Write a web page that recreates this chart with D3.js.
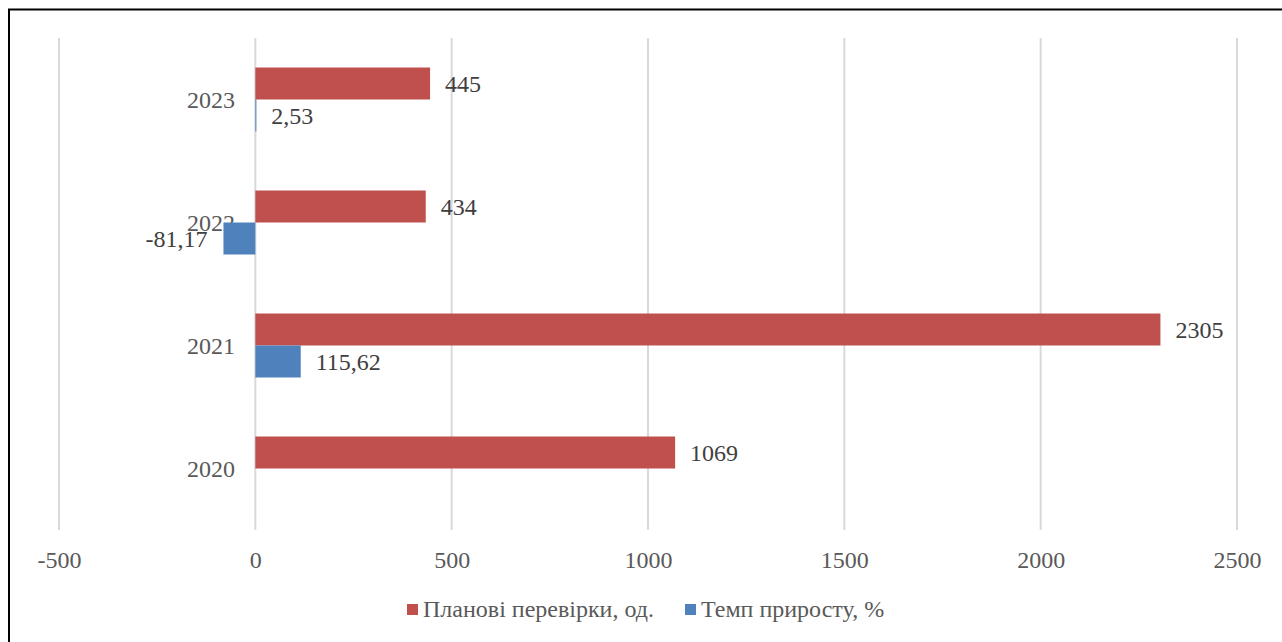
<!DOCTYPE html>
<html><head><meta charset="utf-8">
<script src="https://cdn.jsdelivr.net/npm/d3@7"></script>
<style>body{margin:0;background:#fff}svg{display:block}text{font-family:"Liberation Serif","Times New Roman",serif}</style>
</head><body>
<svg id="c" width="1282" height="642"></svg>
<script>
const categories = ["2020","2021","2022","2023"];
const seriesNames = ["Планові перевірки, од.","Темп приросту, %"];
const planned = [1069, 2305, 434, 445];
const growth = [null, 115.62, -81.17, 2.53];
const growthLabels = ["", "115,62", "-81,17", "2,53"];
const tickValues = [-500, 0, 500, 1000, 1500, 2000, 2500];
const colors = ["#C0504D", "#4F81BD"];
const FS = 24;

const svg = d3.select("#c");
svg.append("rect").attr("x",9).attr("y",9.5).attr("width",1290).attr("height",650)
  .attr("fill","none").attr("stroke","#000").attr("stroke-width",2);

const x = d3.scaleLinear().domain([-500,2500]).range([59,1237]);
const y = d3.scaleBand().domain(categories.slice().reverse()).range([38,530]);
const inner = d3.scaleBand().domain([0,1]).range([0,64]);

// gridlines
svg.append("g").selectAll("line").data(tickValues).join("line")
  .attr("x1",d=>x(d)).attr("x2",d=>x(d)).attr("y1",38).attr("y2",530)
  .attr("stroke","#d9d9d9").attr("stroke-width",2);

// x axis labels
const xa = svg.append("g").attr("transform","translate(0,568)")
  .call(d3.axisBottom(x).tickValues(tickValues).tickSize(0).tickFormat(d=>String(d)));
xa.select(".domain").remove();
xa.selectAll("text").attr("y",0).attr("dy",0).attr("font-size",FS).attr("fill","#595959").attr("font-family","Liberation Serif");

// category labels
svg.append("g").selectAll("text").data(categories).join("text")
  .attr("x",235).attr("y",d=>y(d)+y.bandwidth()/2+8)
  .attr("text-anchor","end").attr("font-size",FS).attr("fill","#595959").text(d=>d);

const rows = categories.map((c,i)=>({c, p:planned[i], g:growth[i], gl:growthLabels[i]}));
const off = (y.bandwidth()-64)/2;

// planned bars
svg.append("g").selectAll("rect").data(rows).join("rect")
  .attr("x",d=>x(Math.min(0,d.p))).attr("width",d=>Math.abs(x(d.p)-x(0)))
  .attr("y",d=>y(d.c)+off+inner(0)).attr("height",inner.bandwidth()).attr("fill",colors[0]);
// growth bars
svg.append("g").selectAll("rect").data(rows.filter(d=>d.g!==null)).join("rect")
  .attr("x",d=>x(Math.min(0,d.g))).attr("width",d=>Math.max(1,Math.abs(x(d.g)-x(0))))
  .attr("y",d=>y(d.c)+off+inner(1)).attr("height",inner.bandwidth()).attr("fill",colors[1]);

// labels
svg.append("g").selectAll("text").data(rows).join("text")
  .attr("x",d=>x(d.p)+15).attr("y",d=>y(d.c)+off+inner(0)+inner.bandwidth()/2+8)
  .attr("font-size",FS).attr("fill","#404040").text(d=>d.p);
svg.append("g").selectAll("text").data(rows.filter(d=>d.g!==null)).join("text")
  .attr("x",d=>d.g<0 ? x(d.g)-16 : x(d.g)+15)
  .attr("text-anchor",d=>d.g<0?"end":"start")
  .attr("y",d=>y(d.c)+off+inner(1)+inner.bandwidth()/2+8)
  .attr("font-size",FS).attr("fill","#404040").text(d=>d.gl);

// legend
const leg = svg.append("g");
const lx = [407, 685];
seriesNames.forEach((n,i)=>{
  leg.append("rect").attr("x",lx[i]).attr("y",604).attr("width",11).attr("height",11).attr("fill",colors[i]);
  leg.append("text").attr("x",lx[i]+16).attr("y",617).attr("font-size",FS).attr("fill","#595959").text(n);
});
</script>
</body></html>
